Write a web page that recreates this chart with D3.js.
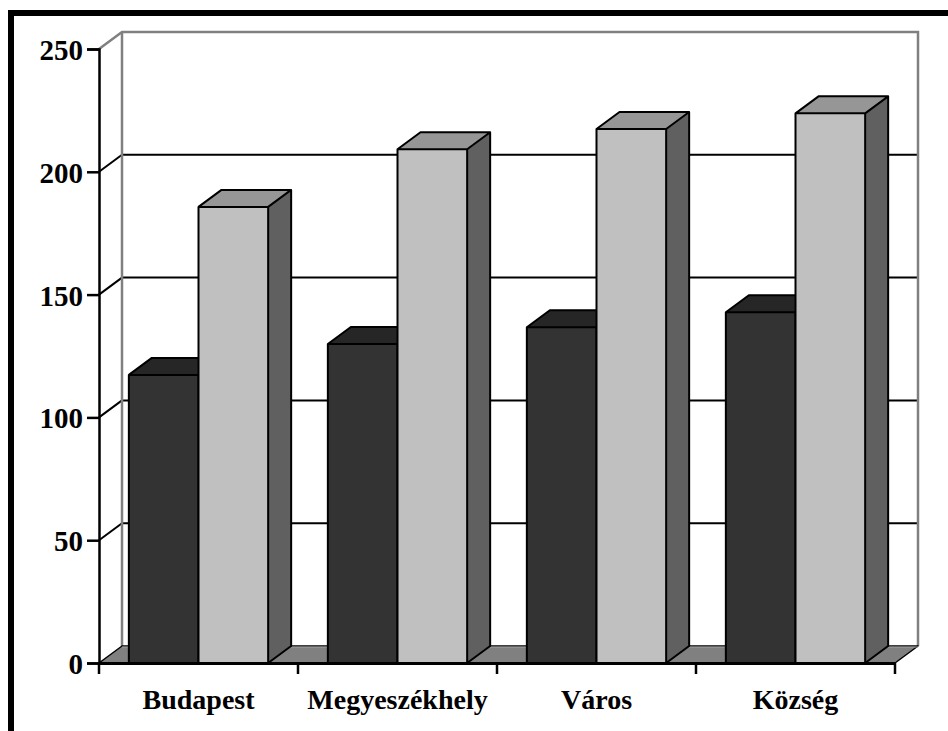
<!DOCTYPE html>
<html>
<head>
<meta charset="utf-8">
<script src="https://cdn.jsdelivr.net/npm/d3@7"></script>
<style>
  body { margin: 0; background: #fff; }
  svg { display: block; }
  text { font-family: "Liberation Serif", "Times New Roman", serif; font-weight: bold; fill: #000; }
</style>
</head>
<body>
<svg></svg>
<script>
// data
var categories = ["Budapest", "Megyeszékhely", "Város", "Község"];
var series1 = [117.3, 129.9, 136.7, 142.8];   // dark bars
var series2 = [185.7, 209.2, 217.4, 223.8];   // light bars
var yTicks = [0, 50, 100, 150, 200, 250];

var width = 948, height = 731;
var dx = 23, dy = 17;            // depth offset of the 3d box

var svg = d3.select("svg").attr("width", width).attr("height", height);

var x = d3.scaleBand()
          .domain(categories)
          .range([99, 895])
          .paddingInner(0)
          .paddingOuter(0);

var y = d3.scaleLinear()
          .domain([0, 250])
          .range([663, 49]);

var x0 = x.range()[0], x1 = x.range()[1];
var y0 = y(0), yTop = y(250);

// back wall
svg.append("rect")
   .attr("x", x0 + dx).attr("y", yTop - dy)
   .attr("width", x1 - x0).attr("height", y0 - yTop)
   .attr("fill", "#fff");

// gridlines on the back wall + side wall connectors
yTicks.filter(d => d > 0 && d < 250).forEach(function(t){
  svg.append("line")
     .attr("x1", x0 + dx).attr("x2", x1 + dx)
     .attr("y1", y(t) - dy).attr("y2", y(t) - dy)
     .attr("stroke", "#000").attr("stroke-width", 2);
  svg.append("line")
     .attr("x1", x0).attr("x2", x0 + dx)
     .attr("y1", y(t)).attr("y2", y(t) - dy)
     .attr("stroke", "#000").attr("stroke-width", 2);
});

// wall edges (gray)
svg.append("path")
   .attr("d", `M${x0},${yTop} L${x0 + dx},${yTop - dy} L${x1 + dx},${yTop - dy} L${x1 + dx},${y0 - dy}`)
   .attr("fill", "none").attr("stroke", "#808080").attr("stroke-width", 2.5);
svg.append("line")
   .attr("x1", x0 + dx).attr("x2", x0 + dx)
   .attr("y1", yTop - dy).attr("y2", y0 - dy)
   .attr("stroke", "#808080").attr("stroke-width", 2.5);

// floor
svg.append("path")
   .attr("d", `M${x0},${y0} L${x1},${y0} L${x1 + dx},${y0 - dy} L${x0 + dx},${y0 - dy} Z`)
   .attr("fill", "#808080").attr("stroke", "#000").attr("stroke-width", 1.5)
   .attr("stroke-linejoin", "round");
svg.append("line")
   .attr("x1", x0 + dx).attr("x2", x1 + dx)
   .attr("y1", y0 - dy + 1).attr("y2", y0 - dy + 1)
   .attr("stroke", "#a0a0a0").attr("stroke-width", 1);

// bars
var bw = x.bandwidth() * 0.35;
var bars = [];
categories.forEach(function(c, i){
  bars.push({cat: c, k: 0, v: series1[i]});
  bars.push({cat: c, k: 1, v: series2[i]});
});
var colors = [
  {front: "#333333", top: "#262626", side: "#1f1f1f"},
  {front: "#c0c0c0", top: "#969696", side: "#606060"}
];

var g = svg.selectAll(".bar")
           .data(bars)
           .enter()
           .append("g")
           .classed("bar", true);

g.each(function(d){
  var sel = d3.select(this);
  var bx = x(d.cat) + x.bandwidth() * 0.15 + d.k * bw;
  var by = y(d.v);
  var col = colors[d.k];
  // side
  sel.append("path")
     .attr("d", `M${bx + bw},${y0} L${bx + bw + dx},${y0 - dy} L${bx + bw + dx},${by - dy} L${bx + bw},${by} Z`)
     .attr("fill", col.side);
  // top
  sel.append("path")
     .attr("d", `M${bx},${by} L${bx + dx},${by - dy} L${bx + bw + dx},${by - dy} L${bx + bw},${by} Z`)
     .attr("fill", col.top);
  // front
  sel.append("rect")
     .attr("x", bx).attr("y", by)
     .attr("width", bw).attr("height", y0 - by)
     .attr("fill", col.front);
  // outline
  sel.append("path")
     .attr("d", `M${bx},${y0} L${bx},${by} L${bx + bw},${by} L${bx + bw},${y0} Z
                 M${bx},${by} L${bx + dx},${by - dy} L${bx + bw + dx},${by - dy} L${bx + bw},${by}
                 M${bx + bw + dx},${by - dy} L${bx + bw + dx},${y0 - dy} L${bx + bw},${y0}`)
     .attr("fill", "none").attr("stroke", "#000").attr("stroke-width", 2)
     .attr("stroke-linejoin", "round");
});

// y axis
var yAxis = d3.axisLeft(y).tickValues(yTicks).tickSize(12).tickPadding(4);
var ya = svg.append("g").attr("transform", `translate(${x0},0)`).call(yAxis);
ya.select(".domain").attr("stroke", "#000").attr("stroke-width", 2.5);
ya.selectAll(".tick line").attr("stroke", "#000").attr("stroke-width", 2.5);
ya.selectAll(".tick text")
  .attr("font-family", null)
  .style("font-size", "29px")
  .attr("dy", "0.36em");

// x axis
var xAxis = d3.axisBottom(x).tickSize(0).tickPadding(26);
var xa = svg.append("g").attr("transform", `translate(0,${y0})`).call(xAxis);
xa.select(".domain").attr("stroke", "#000").attr("stroke-width", 3);
xa.selectAll(".tick text").attr("font-family", null).style("font-size", "28px");
// category boundary ticks
var bounds = categories.map(c => x(c)).concat([x1]);
svg.selectAll(".xtick")
   .data(bounds)
   .enter()
   .append("line")
   .attr("x1", d => d).attr("x2", d => d)
   .attr("y1", y0).attr("y2", y0 + 11)
   .attr("stroke", "#000").attr("stroke-width", 2.5);

// frame (left and top edges visible)
svg.append("path")
   .attr("d", `M11,${height} L11,13 L${width},13`)
   .attr("fill", "none").attr("stroke", "#000").attr("stroke-width", 6);
</script>
</body>
</html>
